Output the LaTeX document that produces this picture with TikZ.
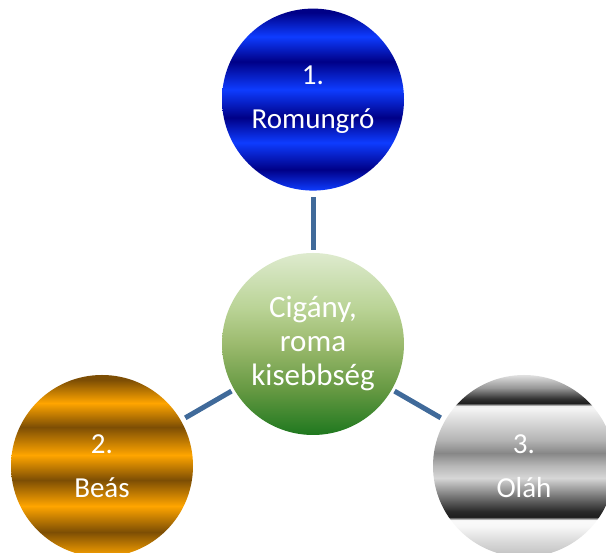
\documentclass[tikz,border=0pt]{standalone}
\usepackage{fontspec}
\setmainfont{Carlito}
\usetikzlibrary{positioning}

\definecolor{blubright}{RGB}{14,60,255}
\definecolor{bludark}{RGB}{0,0,135}
\definecolor{golbright}{RGB}{255,165,0}
\definecolor{goldark}{RGB}{125,78,4}
\definecolor{linkcol}{RGB}{64,106,154}

% stripes: the middle 50bp of each shading covers the circle
\pgfdeclareverticalshading{bluestripes}{100bp}{%
  color(0bp)=(blubright); color(25bp)=(blubright); color(30.75bp)=(bludark);
  color(38.2bp)=(blubright); color(45.05bp)=(bludark); color(52.75bp)=(blubright);
  color(60.45bp)=(bludark); color(67.3bp)=(blubright); color(73.9bp)=(bludark);
  color(100bp)=(bludark)}
\pgfdeclareverticalshading{goldstripes}{100bp}{%
  color(0bp)=(golbright); color(25bp)=(golbright); color(31.85bp)=(goldark);
  color(39bp)=(golbright); color(46.15bp)=(goldark); color(53bp)=(golbright);
  color(60.7bp)=(goldark); color(67.3bp)=(golbright); color(73.65bp)=(goldark);
  color(100bp)=(goldark)}
\pgfdeclareverticalshading{chromestripes}{100bp}{%
  color(0bp)=(black!25); color(25bp)=(black!25); color(28.85bp)=(black!16);
  color(33.5bp)=(black!3); color(35.15bp)=(black!2); color(36bp)=(black!88);
  color(37.5bp)=(black!84); color(41.2bp)=(black!57); color(46.7bp)=(black!16);
  color(50bp)=(black!28); color(53.55bp)=(black!47); color(57bp)=(black!30);
  color(60.45bp)=(black!20); color(65.95bp)=(black!4); color(66.5bp)=(black!6);
  color(67.25bp)=(black!88); color(68.5bp)=(black!80); color(71.45bp)=(black!41);
  color(75bp)=(black!12); color(100bp)=(black!12)}
\pgfdeclareverticalshading{greenfade}{100bp}{%
  rgb(0bp)=(0.12,0.47,0.12); rgb(25bp)=(0.12,0.47,0.12); rgb(37.5bp)=(0.40,0.60,0.26);
  rgb(50bp)=(0.61,0.73,0.43); rgb(60bp)=(0.73,0.83,0.59); rgb(75bp)=(0.87,0.92,0.81);
  rgb(100bp)=(0.87,0.92,0.81)}

\tikzstyle{disc} = [circle, minimum size=182pt, inner sep=0pt, align=center,
  text=white, font=\fontsize{29}{44}\selectfont]
\tikzstyle{romdisc} = [disc, shading=bluestripes]
\tikzstyle{beadisc} = [disc, shading=goldstripes]
\tikzstyle{oladisc} = [disc, shading=chromestripes]
\tikzstyle{hubdisc} = [disc, shading=greenfade, font=\fontsize{31}{34}\selectfont]
\tikzstyle{link} = [draw=linkcol, line width=5pt]

\begin{document}
\begin{tikzpicture}[x=1pt,y=1pt]
    \useasboundingbox (0,0) rectangle (606,553);
    \clip (0,0) rectangle (606,553);

    \node (hub) [hubdisc] at (313,209) {Cigány,\\roma\\kisebbség};

    \node (rom) [romdisc, above=62pt of hub] {1.\\Romungró};
    \node (bea) [beadisc] at (102,87) {2.\\Beás};
    \node (ola) [oladisc] at (524,87) {3.\\Oláh};

    \draw [link, shorten <=3pt, shorten >=6pt] (hub) -- (rom);
    \draw [link, shorten <=3pt, shorten >=5pt] (hub) -- (bea);
    \draw [link, shorten <=3pt, shorten >=5pt] (hub) -- (ola);
\end{tikzpicture}
\end{document}
